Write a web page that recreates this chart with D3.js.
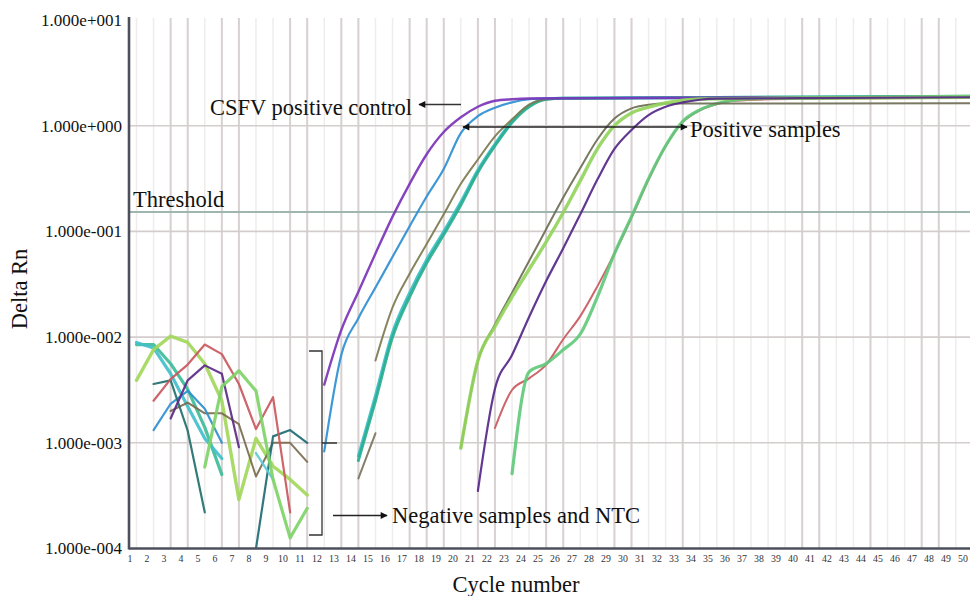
<!DOCTYPE html>
<html><head><meta charset="utf-8">
<script src="https://cdn.jsdelivr.net/npm/d3@7"></script>
<style>
html,body{margin:0;padding:0;background:#fff;}
svg{display:block;font-family:"Liberation Serif","Times New Roman",serif;}
</style></head>
<body><svg id="chart" width="970" height="596"></svg>
<script>
// ---------- data ----------
const cycleTicks = d3.range(1, 51);
const yTickValues = [1e-4, 1e-3, 1e-2, 1e-1, 1e0, 1e1];
const yTickLabels = ["1.000e-004","1.000e-003","1.000e-002","1.000e-001","1.000e+000","1.000e+001"];
const strongGridCycles = [3,4,6,7,10,11,13,14,17,18,19,21,22,25,26,29,30,33,40,41,44,47,48];
const thresholdValue = 0.153;

// positive curves: [cycle, Delta Rn]
const posControl = [[12,0.00355],[13,0.0117],[14,0.0269],[15,0.0617],[16,0.138],[17,0.282],[18,0.537],[19,0.871],[20,1.20],[21,1.51],[22,1.72],[23,1.78],[24,1.81],[30,1.83],[40,1.85],[50,1.88]];
const posBlue    = [[12,0.00083],[13,0.0068],[14,0.0151],[15,0.0295],[16,0.0575],[17,0.112],[18,0.214],[19,0.389],[20,0.851],[21,1.23],[22,1.48],[23,1.66],[24,1.78],[25,1.81],[30,1.83],[40,1.85],[50,1.87]];
const posOlive   = [[15,0.0060],[16,0.0191],[17,0.0398],[18,0.0759],[19,0.145],[20,0.282],[21,0.479],[22,0.794],[23,1.15],[24,1.58],[25,1.78],[26,1.81],[35,1.84],[50,1.87]];
const posTeal    = [[14,0.00068],[15,0.0025],[16,0.0100],[17,0.0240],[18,0.0501],[19,0.0933],[20,0.178],[21,0.363],[22,0.646],[23,1.07],[24,1.51],[25,1.78],[26,1.82],[35,1.85],[50,1.90]];
const posTeal2   = [[14,0.00075],[15,0.0028],[16,0.0110],[17,0.0262],[18,0.0540],[19,0.100],[20,0.190],[21,0.380],[22,0.670],[23,1.10],[24,1.55],[25,1.79],[26,1.82],[35,1.85],[50,1.89]];
const shortBrown = [[14,0.00046],[15,0.00123]];
const lateOlive  = [[20,0.00089],[21,0.0059],[22,0.0132],[23,0.0263],[24,0.0525],[25,0.105],[26,0.209],[27,0.398],[28,0.741],[29,1.17],[30,1.46],[31,1.58],[32,1.62],[40,1.62],[50,1.63]];
const lateGreen  = [[20,0.00089],[21,0.0060],[22,0.0126],[23,0.0240],[24,0.0437],[25,0.0794],[26,0.151],[27,0.302],[28,0.603],[29,1.00],[30,1.32],[31,1.50],[32,1.64],[33,1.74],[34,1.79],[40,1.82],[50,1.86]];
const latePurple = [[21,0.00035],[22,0.00324],[23,0.00676],[24,0.0155],[25,0.0339],[26,0.0692],[27,0.145],[28,0.309],[29,0.603],[30,0.912],[31,1.26],[32,1.51],[33,1.66],[34,1.76],[35,1.80],[40,1.82],[50,1.86]];
const lateRed    = [[22,0.00138],[23,0.00316],[24,0.00407],[25,0.00550],[26,0.00955],[27,0.0158],[28,0.0302],[29,0.0617],[30,0.135],[31,0.310],[32,0.640],[33,1.08],[34,1.40],[35,1.60],[36,1.72],[40,1.80],[50,1.84]];
const lateGreen2 = [[23,0.00051],[24,0.00468],[25,0.00562],[26,0.00759],[27,0.0107],[28,0.0240],[29,0.0617],[30,0.138],[31,0.316],[32,0.646],[33,1.10],[34,1.41],[35,1.62],[36,1.74],[37,1.80],[40,1.83],[50,1.90]];

// negative samples and NTC
const negTealGreen = [[1,0.0085],[2,0.0085],[3,0.0056],[4,0.0032],[5,0.0014],[6,0.00050]];
const negCyan      = [[1,0.0089],[2,0.0079],[3,0.0045],[4,0.0022],[5,0.0011],[6,0.00071]];
const negYellowGrn = [[1,0.0039],[2,0.0076],[3,0.0102],[4,0.0089],[5,0.0056],[6,0.0025],[7,0.00029],[8,0.0011],[9,0.00060],[10,0.00045],[11,0.00032]];
const negGreen     = [[5,0.00059],[6,0.0034],[7,0.0048],[8,0.0031],[9,0.00045],[10,0.000126],[11,0.00024]];
const negRed       = [[2,0.0025],[3,0.0040],[4,0.0055],[5,0.0085],[6,0.0069],[7,0.0036],[8,0.00135],[9,0.0027],[10,0.00022]];
const negPurple    = [[3,0.0017],[4,0.0039],[5,0.0054],[6,0.0045],[7,0.00091]];
const negDarkTeal  = [[2,0.0036],[3,0.0039],[4,0.0013],[5,0.00022]];
const negDarkTeal2 = [[8,0.0001],[9,0.00115],[10,0.00132],[11,0.00100]];
const negBlue      = [[2,0.00132],[3,0.00234],[4,0.0031],[5,0.0021],[6,0.00100]];
const negBrown     = [[3,0.0020],[4,0.0024],[5,0.0019],[6,0.0019],[7,0.0015],[8,0.00048],[9,0.0010],[10,0.0010],[11,0.00066]];
const negLightCyan = [[8,0.00080],[9,0.00045]];

// ---------- chart ----------
const svg = d3.select("#chart");
const pLeft = 129, pRight = 970, pTop = 18, pBottom = 548.5;
const x = d3.scaleLinear().domain([1, 50]).range([136.5, 972.9]);
const xLabel = d3.scaleLinear().domain([1, 50]).range([130, 963]);
const y = d3.scaleLog().domain([1e-4, 10]).range([548.5, 20]);

const defs = svg.append("defs");
defs.append("clipPath").attr("id","plotclip")
  .append("rect").attr("x", pLeft).attr("y", pTop).attr("width", pRight-pLeft).attr("height", pBottom-pTop);
const mk = (id, orient) => defs.append("marker").attr("id", id)
  .attr("viewBox","0 0 10 10").attr("refX", 9).attr("refY", 5)
  .attr("markerWidth", 10).attr("markerHeight", 7).attr("markerUnits","userSpaceOnUse")
  .attr("orient", orient)
  .append("path").attr("d","M0,0 L10,5 L0,10 Z").attr("fill","#111");
mk("arrowEnd","auto");
mk("arrowStart","auto-start-reverse");

// grid
const grid = svg.append("g");
grid.append("g").selectAll("line").data(cycleTicks).join("line")
  .attr("x1", d => x(d)).attr("x2", d => x(d)).attr("y1", pTop).attr("y2", pBottom)
  .attr("stroke", "#f0ecec").attr("stroke-width", 1.5);
grid.append("g").selectAll("line").data(strongGridCycles).join("line")
  .attr("x1", d => x(d)).attr("x2", d => x(d)).attr("y1", pTop).attr("y2", pBottom)
  .attr("stroke", "#d8d1d1").attr("stroke-width", 2);
grid.append("g").selectAll("line").data(yTickValues.slice(1, 5)).join("line")
  .attr("x1", pLeft).attr("x2", pRight).attr("y1", d => y(d)).attr("y2", d => y(d))
  .attr("stroke", "#d3cdcd").attr("stroke-width", 1.6);
// threshold
svg.append("line").attr("x1", pLeft).attr("x2", pRight)
  .attr("y1", y(thresholdValue)).attr("y2", y(thresholdValue))
  .attr("stroke", "#9fb6b0").attr("stroke-width", 2);

// lines
const lineLin = d3.line().x(d => x(d[0])).y(d => y(d[1]));
const lineSmooth = d3.line().x(d => x(d[0])).y(d => y(d[1])).curve(d3.curveMonotoneX);
const plot = svg.append("g").attr("clip-path","url(#plotclip)");
const negSeries = [
  [negTealGreen, "#3dbd98", 3.2], [negCyan, "#43bfcb", 3.2], [negYellowGrn, "#a3d85c", 3.4],
  [negBrown, "#7b6b4e", 2], [negBlue, "#2e8fcf", 2.2], [negDarkTeal, "#22706e", 2.2],
  [negDarkTeal2, "#1f6b74", 2.2], [negLightCyan, "#5fcad6", 2.4], [negRed, "#c9585e", 2.2],
  [negPurple, "#5b2a86", 2.2], [negGreen, "#7fd468", 3.2], [shortBrown, "#7c7460", 2]
];
const posSeries = [
  [posTeal2, "#3bbfc8", 3], [posTeal, "#2aae8f", 3], [posOlive, "#7e7a50", 2], [posBlue, "#2f8fd2", 2.2],
  [posControl, "#7b34b8", 2.4],
  [lateRed, "#c9585e", 2], [lateGreen2, "#62ca7c", 3.2], [lateOlive, "#6e6c55", 2],
  [lateGreen, "#93d45c", 3.4], [latePurple, "#55278a", 2.2]
];
plot.append("g").selectAll("path").data(negSeries).join("path")
  .attr("d", d => lineLin(d[0])).attr("fill","none")
  .attr("stroke", d => d[1]).attr("stroke-width", d => d[2])
  .attr("stroke-linejoin","round").attr("stroke-linecap","round").attr("stroke-opacity", 0.92);
plot.append("g").selectAll("path").data(posSeries).join("path")
  .attr("d", d => lineSmooth(d[0])).attr("fill","none")
  .attr("stroke", d => d[1]).attr("stroke-width", d => d[2])
  .attr("stroke-linejoin","round").attr("stroke-linecap","round").attr("stroke-opacity", 0.92);

// axes lines
svg.append("line").attr("x1", pLeft).attr("x2", pLeft).attr("y1", 17).attr("y2", pBottom+1)
  .attr("stroke", "#4d4f5c").attr("stroke-width", 2.6);
svg.append("line").attr("x1", pLeft).attr("x2", pRight).attr("y1", pBottom).attr("y2", pBottom)
  .attr("stroke", "#4d4f5c").attr("stroke-width", 2.6);

// y ticks
svg.append("g").selectAll("text").data(yTickValues).join("text")
  .attr("x", 122).attr("y", d => y(d)).attr("dy","0.35em").attr("text-anchor","end")
  .attr("font-size", 17).attr("fill","#111")
  .text((d,i) => yTickLabels[i]);
// x ticks
svg.append("g").selectAll("text").data(cycleTicks).join("text")
  .attr("x", d => xLabel(d)).attr("y", 562).attr("text-anchor","middle")
  .attr("font-size", 9.8).attr("fill","#333")
  .text(d => d);

// axis titles
svg.append("text").attr("x", 516).attr("y", 592).attr("text-anchor","middle")
  .attr("font-size", 22.5).attr("fill","#111").text("Cycle number");
svg.append("text").attr("transform","translate(27,289) rotate(-90)").attr("text-anchor","middle")
  .attr("font-size", 22.5).attr("fill","#111").text("Delta Rn");

// annotations
svg.append("text").attr("x", 133).attr("y", 207).attr("font-size", 22.5).attr("fill","#111").text("Threshold");
svg.append("text").attr("x", 210).attr("y", 115).attr("font-size", 22.5).attr("fill","#111").text("CSFV positive control");
svg.append("line").attr("x1", 461).attr("y1", 104.5).attr("x2", 419).attr("y2", 104.5)
  .attr("stroke","#333").attr("stroke-width",1.3).attr("marker-end","url(#arrowEnd)");
svg.append("line").attr("x1", 463).attr("y1", 127).attr("x2", 687).attr("y2", 127)
  .attr("stroke","#222").attr("stroke-width",1.3)
  .attr("marker-start","url(#arrowStart)").attr("marker-end","url(#arrowEnd)");
svg.append("text").attr("x", 690).attr("y", 137).attr("font-size", 22.5).attr("fill","#111").text("Positive samples");

// bracket
svg.append("path").attr("d","M309,351 L322,351 L322,535 L309,535 M322,443 L337,443")
  .attr("fill","none").attr("stroke","#333").attr("stroke-width",1.3);
svg.append("line").attr("x1", 333).attr("y1", 515.5).attr("x2", 387).attr("y2", 515.5)
  .attr("stroke","#222").attr("stroke-width",1.3).attr("marker-end","url(#arrowEnd)");
svg.append("text").attr("x", 392).attr("y", 523).attr("font-size", 22.5).attr("fill","#111").text("Negative samples and NTC");
</script></body></html>
